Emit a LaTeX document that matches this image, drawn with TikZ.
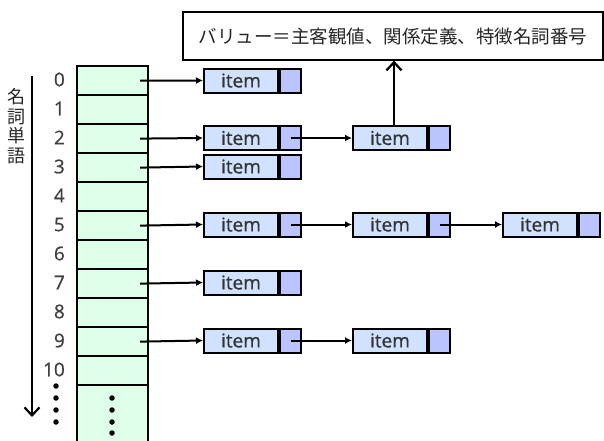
\documentclass[tikz,border=0pt]{standalone}
\usepackage{fontspec}
\setmainfont{Open Sans}
\newfontfamily\semi{Open Sans}[FakeBold=0.8]
\newfontfamily\cjk{Noto Sans CJK JP}
\usetikzlibrary{arrows.meta,positioning}
\definecolor{colfill}{RGB}{222,255,232}
\definecolor{itemfill}{RGB}{208,226,255}
\definecolor{cellfill}{RGB}{188,196,255}
\tikzset{
  x=1pt,y=-1pt,
  hcell/.style={draw,line width=2.2pt,fill=colfill,minimum width=71pt,minimum height=29pt,inner sep=0pt,anchor=north west},
  itembox/.style={draw,line width=2pt,fill=itemfill,minimum width=74pt,minimum height=24pt,inner sep=0pt,anchor=west,font=\semi\fontsize{19}{19}\selectfont,text=black!80},
  ptrcell/.style={draw,line width=2pt,fill=cellfill,minimum width=21pt,minimum height=24pt,inner sep=0pt,anchor=west},
  idx/.style={anchor=east,font=\semi\fontsize{19}{19}\selectfont,text=black!75,inner sep=0pt},
  link/.style={line width=2pt,-{Latex[length=7pt,width=7pt]}},
  bigarrow/.style={line width=2.2pt,-{Straight Barb[length=8pt,width=15pt,line width=2.2pt]}},
  dotmark/.style={circle,fill=black,inner sep=0pt,minimum size=5.5pt}
}
\begin{document}
\begin{tikzpicture}
\useasboundingbox (0,0) rectangle (604,440);
% hash column
\foreach \i in {0,...,10} {
  \node[hcell] (c\i) at (76,{65+29*\i}) {};
  \node[idx] (n\i) at (65,{79.5+29*\i}) {\i};
}
\node[hcell,minimum height=62pt] (cdots) at (76,384) {};
\foreach \k/\yy in {1/398,2/410,3/422,4/433} {
  \node[dotmark] (d\k) at (112,\yy) {};
}
\foreach \k/\yy in {1/386,2/398,3/410,4/422} {
  \node[dotmark] (e\k) at (56,\yy) {};
}
% vertical label + arrow
\node[font=\cjk\fontsize{18}{19.5}\selectfont,align=center,inner sep=0pt,text=black!85] (vlab) at (16,126) {名\\詞\\単\\語};
\coordinate (vtop) at (32,76);
\coordinate (vbot) at (32,417);
\draw[bigarrow] (vtop) -- (vbot);
% items
% row 0
\node[itembox] (a0) at (203,80.5) {item};
\node[ptrcell] (p0) at (a0.east) {};
% row 2
\node[itembox] (a2) at (203,138) {item};
\node[ptrcell] (p2) at (a2.east) {};
\node[itembox] (b2) at (352,138) {item};
\node[ptrcell] (q2) at (b2.east) {};
% row 3
\node[itembox] (a3) at (203,166.5) {item};
\node[ptrcell] (p3) at (a3.east) {};
% row 5
\node[itembox] (a5) at (203,224.5) {item};
\node[ptrcell] (p5) at (a5.east) {};
\node[itembox] (b5) at (352,224.5) {item};
\node[ptrcell] (q5) at (b5.east) {};
\node[itembox] (f5) at (502,224.5) {item};
\node[ptrcell] (r5) at (f5.east) {};
% row 7
\node[itembox] (a7) at (203,282.5) {item};
\node[ptrcell] (p7) at (a7.east) {};
% row 9
\node[itembox] (a9) at (203,340.5) {item};
\node[ptrcell] (p9) at (a9.east) {};
\node[itembox] (b9) at (352,340.5) {item};
\node[ptrcell] (q9) at (b9.east) {};
% links from column
\foreach \r in {0,2,3,5,7,9} {
  \draw[link] ([xshift=-9pt]c\r.east) -- (a\r.west);
}
% chain links
\draw[link] (p2.center) -- (b2.west);
\draw[link] (p5.center) -- (b5.west);
\draw[link] (q5.center) -- (f5.west);
\draw[link] (p9.center) -- (b9.west);
% top label
\node[draw,line width=1.4pt,minimum width=420pt,minimum height=48pt,inner sep=0pt,font=\cjk\fontsize{18.5}{18.5}\selectfont,text=black!85] (lab) at (393,36) {バリュー＝主客観値、関係定義、特徴名詞番号};
\draw[bigarrow] ([xshift=4pt]b2.north) -- ([xshift=4pt]b2.north |- lab.south);
\end{tikzpicture}
\end{document}
